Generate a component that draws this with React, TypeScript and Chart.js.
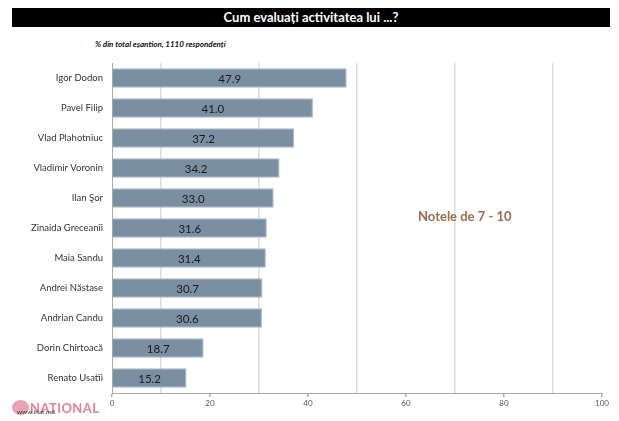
import React, { useEffect, useRef } from "react";
import { Chart, registerables } from "chart.js";

Chart.register(...registerables);

const categories = [
  "Igor Dodon",
  "Pavel Filip",
  "Vlad Plahotniuc",
  "Vladimir Voronin",
  "Ilan Şor",
  "Zinaida Greceanîi",
  "Maia Sandu",
  "Andrei Năstase",
  "Andrian Candu",
  "Dorin Chirtoacă",
  "Renato Usatîi",
];
const values = [47.9, 41.0, 37.2, 34.2, 33.0, 31.6, 31.4, 30.7, 30.6, 18.7, 15.2];
const xTickLabels = ["0", "20", "40", "60", "80", "100"];

const FONT = "Lato, 'Open Sans', sans-serif";

const barLabels = {
  id: "barLabels",
  afterDatasetsDraw(chart: any) {
    const { ctx } = chart;
    const meta = chart.getDatasetMeta(0);
    ctx.save();
    ctx.font = `11.5px ${FONT}`;
    ctx.fillStyle = "#1a1a1a";
    ctx.textAlign = "center";
    ctx.textBaseline = "middle";
    meta.data.forEach((el: any, i: number) => {
      const cx = (el.x + el.base) / 2;
      ctx.fillText(values[i].toFixed(1), cx, el.y + 1);
    });
    ctx.restore();
  },
};

export default function App() {
  const ref = useRef<HTMLCanvasElement>(null);
  useEffect(() => {
    if (!ref.current) return;
    const chart = new Chart(ref.current, {
      type: "bar",
      data: {
        labels: categories,
        datasets: [
          {
            data: values,
            backgroundColor: "#7b8fa3",
            borderColor: "#a9b7c5",
            borderWidth: 1,
            barPercentage: 0.65,
            categoryPercentage: 1,
          },
        ],
      },
      plugins: [barLabels],
      options: {
        indexAxis: "y",
        animation: false,
        responsive: false,
        maintainAspectRatio: false,
        layout: { padding: { top: 63, right: 17, left: 0, bottom: 0 } },
        plugins: {
          legend: { display: false },
          tooltip: { enabled: false },
          title: { display: false },
        },
        scales: {
          x: {
            min: 0,
            max: 100,
            ticks: {
              stepSize: 10,
              autoSkip: false,
              maxRotation: 0,
              padding: 2,
              color: "#555",
              font: { size: 8, family: FONT },
              callback: (v: any) => {
                const idx = xTickLabels.indexOf(String(v));
                return idx >= 0 ? xTickLabels[idx] : "";
              },
            },
            grid: {
              drawTicks: true,
              tickLength: 4,
              lineWidth: 1.5,
              color: (c: any) =>
                c.tick && c.tick.value % 20 === 10 ? "#dcdcdc" : "rgba(0,0,0,0)",
              tickColor: (c: any) =>
                c.tick && c.tick.value % 20 === 0 ? "#aaaaaa" : "rgba(0,0,0,0)",
            },
            border: { display: true, color: "#aaaaaa", width: 1 },
            afterFit: (s: any) => {
              s.height = 28;
            },
          },
          y: {
            ticks: {
              color: "#333",
              padding: 9,
              autoSkip: false,
              font: { size: 9.5, family: FONT },
            },
            grid: { display: false, drawTicks: false },
            border: { display: true, color: "#aaaaaa", width: 1 },
            afterFit: (s: any) => {
              s.width = 112;
            },
          },
        },
      },
    });
    return () => chart.destroy();
  }, []);

  return (
    <div
      style={{
        position: "fixed",
        left: 0,
        top: 0,
        width: 619,
        height: 421,
        background: "#fff",
        overflow: "hidden",
        fontFamily: FONT,
      }}
    >
      <div
        style={{
          position: "absolute",
          left: 12,
          top: 8,
          width: 598,
          height: 19,
          background: "#000",
          color: "#fff",
          fontWeight: 700,
          fontSize: 13,
          lineHeight: "19px",
          textAlign: "center",
        }}
      >
        Cum evaluați activitatea lui ...?
      </div>
      <div
        style={{
          position: "absolute",
          left: 95,
          top: 39,
          fontSize: 8,
          fontWeight: 700,
          fontStyle: "italic",
          color: "#111",
          whiteSpace: "nowrap",
        }}
      >
        % din total eșantion, 1110 respondenți
      </div>
      <canvas
        ref={ref}
        width={619}
        height={421}
        style={{ position: "absolute", left: 0, top: 0, width: 619, height: 421 }}
      />
      <div
        style={{
          position: "absolute",
          left: 418,
          top: 208,
          fontSize: 13,
          fontWeight: 700,
          color: "#9a6b4d",
          whiteSpace: "nowrap",
        }}
      >
        Notele de 7 - 10
      </div>
      <div
        style={{
          position: "absolute",
          left: 12,
          top: 400,
          width: 17,
          height: 15,
          borderRadius: "50%",
          background: "#e9a3b3",
        }}
      />
      <div
        style={{
          position: "absolute",
          left: 30,
          top: 400,
          fontSize: 13,
          fontWeight: 700,
          color: "#e27f98",
          whiteSpace: "nowrap",
          letterSpacing: 0.4,
        }}
      >
        NATIONAL
      </div>
      <div
        style={{
          position: "absolute",
          left: 17,
          top: 408,
          fontSize: 6.5,
          color: "#333",
          whiteSpace: "nowrap",
        }}
      >
        www.inat.md
      </div>
    </div>
  );
}
